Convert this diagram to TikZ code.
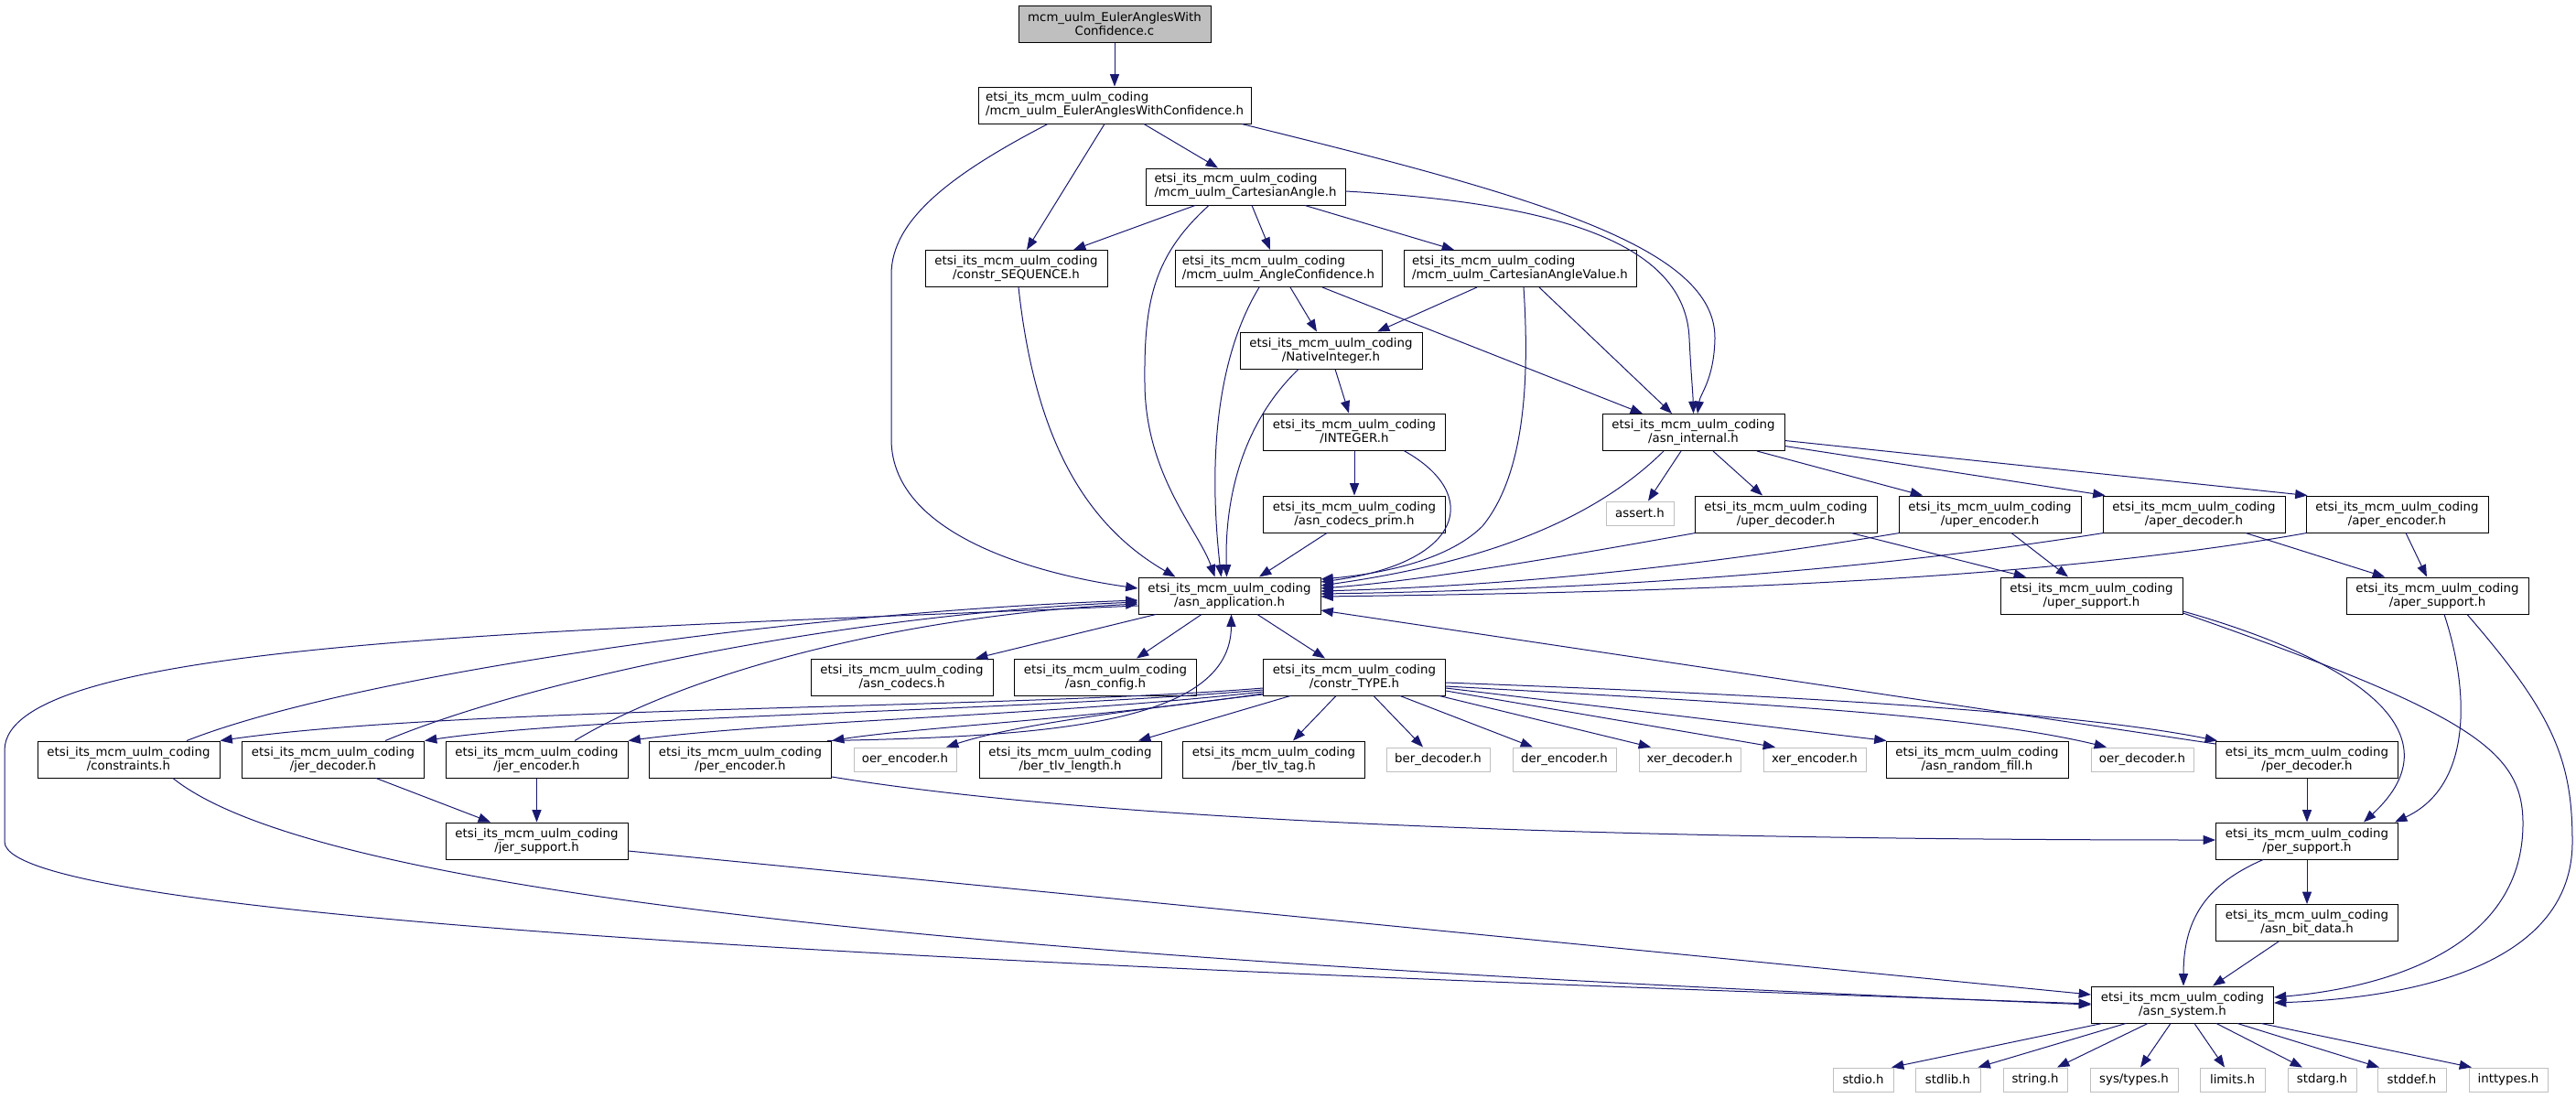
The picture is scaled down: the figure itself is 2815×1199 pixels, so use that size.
\documentclass[tikz,border=0pt]{standalone}
\usepackage{fontspec}
\setmainfont{DejaVu Sans}
\usetikzlibrary{arrows.meta,calc}
\definecolor{edgec}{HTML}{191970}
\definecolor{greyl}{HTML}{BFBFBF}
\begin{document}
\begin{tikzpicture}[x=0.75pt,y=-0.75pt,font=\fontsize{10pt}{11.25pt}\selectfont,
  hb/.style={draw=black,line width=0.75pt,fill=white,inner sep=0pt,minimum height=30pt,minimum width=149.25pt,align=center},
  hbl/.style={hb,align=left},
  rootbox/.style={hb,fill=greyl},
  sb/.style={draw=greyl,line width=0.75pt,fill=white,inner sep=0pt,minimum height=19.5pt,align=center},
  wd/.style={minimum width=#1*0.75pt},
  edg/.style={draw=edgec,line width=0.75pt,-{Triangle[length=10pt,width=7.5pt]}}]
\newcommand\sedge[4]{\draw[edg] ($(#1.south)+(#2,0)$) -- ($(#3.north)+(#4,0)$);}
\useasboundingbox (0,0) rectangle (2815,1199);
% nodes
\node[rootbox,wd=210] (root) at (1218,26) {mcm\_uulm\_EulerAnglesWith\\Confidence.c};
\node[hbl,wd=298] (eawc) at (1218,115) {etsi\_its\_mcm\_uulm\_coding\\/mcm\_uulm\_EulerAnglesWithConfidence.h};
\node[hbl,wd=218] (cang) at (1361,204) {etsi\_its\_mcm\_uulm\_coding\\/mcm\_uulm\_CartesianAngle.h};
\node[hb] (cseq) at (1110.5,293.5) {etsi\_its\_mcm\_uulm\_coding\\/constr\_SEQUENCE.h};
\node[hbl,wd=226] (aconf) at (1397,293.5) {etsi\_its\_mcm\_uulm\_coding\\/mcm\_uulm\_AngleConfidence.h};
\node[hbl,wd=254] (cav) at (1661,293.5) {etsi\_its\_mcm\_uulm\_coding\\/mcm\_uulm\_CartesianAngleValue.h};
\node[hb] (nint) at (1454.5,383) {etsi\_its\_mcm\_uulm\_coding\\/NativeInteger.h};
\node[hb] (integ) at (1480,472) {etsi\_its\_mcm\_uulm\_coding\\/INTEGER.h};
\node[hb] (prim) at (1480,562) {etsi\_its\_mcm\_uulm\_coding\\/asn\_codecs\_prim.h};
\node[hb] (asnint) at (1850.5,472.5) {etsi\_its\_mcm\_uulm\_coding\\/asn\_internal.h};
\node[sb,wd=74] (assert) at (1792,561) {assert.h};
\node[hb] (uperdec) at (1951.5,562) {etsi\_its\_mcm\_uulm\_coding\\/uper\_decoder.h};
\node[hb] (uperenc) at (2174.5,562) {etsi\_its\_mcm\_uulm\_coding\\/uper\_encoder.h};
\node[hb] (aperdec) at (2397.5,562) {etsi\_its\_mcm\_uulm\_coding\\/aper\_decoder.h};
\node[hb] (aperenc) at (2619.5,562) {etsi\_its\_mcm\_uulm\_coding\\/aper\_encoder.h};
\node[hb] (upersup) at (2285.5,651) {etsi\_its\_mcm\_uulm\_coding\\/uper\_support.h};
\node[hb] (apersup) at (2663.5,651) {etsi\_its\_mcm\_uulm\_coding\\/aper\_support.h};
\node[hb] (asnapp) at (1343.5,651) {etsi\_its\_mcm\_uulm\_coding\\/asn\_application.h};
\node[hb] (codecs) at (985.5,740) {etsi\_its\_mcm\_uulm\_coding\\/asn\_codecs.h};
\node[hb] (config) at (1208,740) {etsi\_its\_mcm\_uulm\_coding\\/asn\_config.h};
\node[hb] (ctype) at (1480,740) {etsi\_its\_mcm\_uulm\_coding\\/constr\_TYPE.h};
\node[hb] (constraints) at (140.5,830) {etsi\_its\_mcm\_uulm\_coding\\/constraints.h};
\node[hb] (jerdec) at (364,830) {etsi\_its\_mcm\_uulm\_coding\\/jer\_decoder.h};
\node[hb] (jerenc) at (586.5,830) {etsi\_its\_mcm\_uulm\_coding\\/jer\_encoder.h};
\node[hb] (perenc) at (809,830) {etsi\_its\_mcm\_uulm\_coding\\/per\_encoder.h};
\node[sb,wd=112] (oerenc) at (989,830) {oer\_encoder.h};
\node[hb] (bertlvlen) at (1169.5,830) {etsi\_its\_mcm\_uulm\_coding\\/ber\_tlv\_length.h};
\node[hb] (bertlvtag) at (1392,830) {etsi\_its\_mcm\_uulm\_coding\\/ber\_tlv\_tag.h};
\node[sb,wd=113] (berdec) at (1571.5,830) {ber\_decoder.h};
\node[sb,wd=113] (derenc) at (1709.5,830) {der\_encoder.h};
\node[sb,wd=111] (xerdec) at (1846.5,830) {xer\_decoder.h};
\node[sb,wd=112] (xerenc) at (1983,830) {xer\_encoder.h};
\node[hb] (randfill) at (2160.5,830) {etsi\_its\_mcm\_uulm\_coding\\/asn\_random\_fill.h};
\node[sb,wd=112] (oerdec) at (2341,830) {oer\_decoder.h};
\node[hb] (perdec) at (2521,830) {etsi\_its\_mcm\_uulm\_coding\\/per\_decoder.h};
\node[hb] (jersup) at (586.5,919) {etsi\_its\_mcm\_uulm\_coding\\/jer\_support.h};
\node[hb] (persup) at (2521,919) {etsi\_its\_mcm\_uulm\_coding\\/per\_support.h};
\node[hb] (bitdata) at (2521,1008.5) {etsi\_its\_mcm\_uulm\_coding\\/asn\_bit\_data.h};
\node[hb] (asnsys) at (2385,1098) {etsi\_its\_mcm\_uulm\_coding\\/asn\_system.h};
\node[sb,wd=66] (stdio) at (2036,1180) {stdio.h};
\node[sb,wd=71] (stdlib) at (2128.5,1180) {stdlib.h};
\node[sb,wd=70] (string) at (2224,1180) {string.h};
\node[sb,wd=96] (systypes) at (2332,1180) {sys/types.h};
\node[sb,wd=71] (limits) at (2439.5,1180) {limits.h};
\node[sb,wd=75] (stdarg) at (2537.5,1180) {stdarg.h};
\node[sb,wd=75] (stddef) at (2635.5,1180) {stddef.h};
\node[sb,wd=86] (inttypes) at (2741,1180) {inttypes.h};
% straight edges
\sedge{root}{0}{eawc}{0}
\sedge{eawc}{-11}{cseq}{11.5}
\sedge{eawc}{32}{cang}{-30}
\sedge{cang}{-55}{cseq}{62.5}
\sedge{cang}{7}{aconf}{-9}
\sedge{cang}{65}{cav}{-72}
\sedge{aconf}{13}{nint}{-15.5}
\sedge{aconf}{48}{asnint}{-55.5}
\sedge{cav}{-47}{nint}{50.5}
\sedge{cav}{21}{asnint}{-23.5}
\sedge{nint}{4.5}{integ}{-6}
\sedge{integ}{0}{prim}{0}
\sedge{prim}{-30}{asnapp}{32.5}
\sedge{asnint}{-13.5}{assert}{9}
\sedge{asnint}{21.5}{uperdec}{-25.5}
\sedge{asnint}{69.5}{uperenc}{-73.5}
\sedge{asnapp}{-80.5}{codecs}{80.5}
\sedge{asnapp}{-30.5}{config}{34}
\sedge{asnapp}{30.5}{ctype}{-32}
\sedge{ctype}{-70}{bertlvlen}{74.5}
\sedge{ctype}{-20}{bertlvtag}{21}
\sedge{ctype}{21}{berdec}{-16.5}
\sedge{ctype}{50}{derenc}{-34.5}
\sedge{ctype}{93}{xerdec}{-42.5}
\sedge{uperdec}{71.5}{upersup}{-71.5}
\sedge{uperenc}{23.5}{upersup}{-25.5}
\sedge{aperdec}{56.5}{apersup}{-57.5}
\sedge{aperenc}{9.5}{apersup}{-11.5}
\sedge{jerdec}{47}{jersup}{-50.5}
\sedge{jerenc}{0}{jersup}{0}
\sedge{perdec}{0}{persup}{0}
\sedge{persup}{0}{bitdata}{0}
\sedge{bitdata}{-31}{asnsys}{33}
\sedge{asnsys}{-88}{stdio}{31}
\sedge{asnsys}{-62}{stdlib}{33}
\sedge{asnsys}{-38}{string}{24}
\sedge{asnsys}{-13}{systypes}{7}
\sedge{asnsys}{13}{limits}{-8.5}
\sedge{asnsys}{37}{stdarg}{-21.5}
\sedge{asnsys}{60}{stddef}{-35.5}
\sedge{asnsys}{86}{inttypes}{-40}
\draw[edg] ($(asnint.east)+(0,15)$) -- ($(aperdec.north)+(-97,0)$);
\draw[edg] ($(asnint.east)+(0,9)$) -- ($(aperenc.north)+(-98,0)$);
\draw[edg] ($(ctype.east)+(0,15)$) -- ($(xerenc.north)+(-43,0)$);
\draw[edg] ($(ctype.east)+(0,12)$) -- ($(randfill.north)+(-99,0)$);
\draw[edg] ($(perdec.west)+(0,-17)$) -- ($(asnapp.east)+(0,16)$);
\draw[edg] ($(jersup.east)+(0,11)$) -- ($(asnsys.west)+(0,-11)$);
% curved edges
\draw[edg] ($(eawc.south)+(-73,0)$) .. controls (1040,190) and (974,240) .. (974,300) -- (974,480) .. controls (974,590) and (1150,630) .. ($(asnapp.west)+(0,-8)$);
\draw[edg] ($(eawc.south)+(139,0)$) .. controls (1680,215) and (1875,270) .. (1874,370) .. controls (1873,415) and (1858,430) .. ($(asnint.north)+(4.5,0)$);
\draw[edg] ($(cang.east)+(0,5)$) .. controls (1700,222) and (1842,265) .. (1846,370) .. controls (1848,410) and (1850,430) .. (asnint.north);
\draw[edg] ($(cseq.south)+(2.5,0)$) .. controls (1130,470) and (1180,570) .. ($(asnapp.north)+(-59,0)$);
\draw[edg] ($(cang.south)+(-40,0)$) .. controls (1260,280) and (1250,330) .. (1251,420) .. controls (1252,520) and (1310,580) .. ($(asnapp.north)+(-16,0)$);
\draw[edg] ($(aconf.south)+(-21,0)$) .. controls (1330,390) and (1320,500) .. ($(asnapp.north)+(-9,0)$);
\draw[edg] ($(nint.south)+(-35.5,0)$) .. controls (1360,460) and (1338,540) .. ($(asnapp.north)+(-3,0)$);
\draw[edg] ($(cav.south)+(4,0)$) .. controls (1672,420) and (1665,520) .. (1620,575) .. controls (1580,615) and (1500,628) .. ($(asnapp.east)+(0,-18)$);
\draw[edg] ($(integ.south)+(54,0)$) .. controls (1620,540) and (1600,615) .. ($(asnapp.east)+(0,-15)$);
\draw[edg] ($(asnint.south)+(-32.5,0)$) .. controls (1740,570) and (1620,615) .. ($(asnapp.east)+(0,-11)$);
\draw[edg] ($(uperdec.south)+(-99,0)$) .. controls (1700,610) and (1550,635) .. ($(asnapp.east)+(0,-8)$);
\draw[edg] ($(uperenc.south)+(-99,0)$) .. controls (1850,620) and (1650,640) .. ($(asnapp.east)+(0,-5)$);
\draw[edg] ($(aperdec.south)+(-99,0)$) .. controls (2000,630) and (1700,645) .. ($(asnapp.east)+(0,-2)$);
\draw[edg] ($(aperenc.south)+(-99,0)$) .. controls (2200,640) and (1750,648) .. ($(asnapp.east)+(0,1)$);
\draw[edg] ($(asnapp.west)+(0,11)$) .. controls (600,690) and (5,700) .. (5,820) -- (5,920) .. controls (5,1010) and (1200,1060) .. ($(asnsys.west)+(0,-1)$);
\draw[edg] ($(constraints.north)+(63.5,0)$) .. controls (380,740) and (850,670) .. ($(asnapp.west)+(0,5)$);
\draw[edg] ($(jerdec.north)+(57,0)$) .. controls (600,735) and (950,670) .. ($(asnapp.west)+(0,7)$);
\draw[edg] ($(jerenc.north)+(41.5,0)$) .. controls (760,730) and (1000,672) .. ($(asnapp.west)+(0,9)$);
\draw[edg] ($(ctype.west)+(0,12)$) .. controls (1100,775) and (500,772) .. (constraints.north east);
\draw[edg] ($(ctype.west)+(0,14)$) .. controls (1100,778) and (650,782) .. (jerdec.north east);
\draw[edg] ($(ctype.west)+(0,16)$) .. controls (1150,782) and (850,788) .. (jerenc.north east);
\draw[edg] ($(ctype.west)+(0,18)$) .. controls (1200,785) and (1000,795) .. (perenc.north east);
\draw[edg] ($(ctype.west)+(0,19)$) .. controls (1200,780) and (1100,795) .. ($(oerenc.north)+(45,0)$);
\draw[edg] ($(perenc.north)+(95,0)$) .. controls (1150,805) and (1345,790) .. ($(asnapp.south)+(2,0)$);
\draw[edg] ($(constraints.south)+(48.5,0)$) .. controls (350,980) and (1100,1050) .. ($(asnsys.west)+(0,0)$);
\draw[edg] ($(perenc.east)+(0,19)$) .. controls (1250,905) and (1900,918) .. ($(persup.west)+(0,-1)$);
\draw[edg] ($(ctype.east)+(0,10)$) .. controls (1900,768) and (2150,780) .. ($(oerdec.north)+(-39,0)$);
\draw[edg] ($(ctype.east)+(0,6)$) .. controls (1900,758) and (2250,775) .. ($(perdec.north)+(-98,0)$);
\draw[edg] ($(upersup.east)+(0,17)$) .. controls (2570,720) and (2690,800) .. ($(persup.north)+(62,0)$);
\draw[edg] ($(upersup.east)+(0,19)$) .. controls (2700,780) and (2757,820) .. (2757,900) .. controls (2757,1040) and (2600,1080) .. ($(asnsys.east)+(0,-8)$);
\draw[edg] ($(apersup.south)+(7.5,0)$) .. controls (2700,760) and (2700,860) .. ($(persup.north)+(96,0)$);
\draw[edg] ($(apersup.south)+(32.5,0)$) .. controls (2790,780) and (2811,830) .. (2811,920) .. controls (2811,1050) and (2650,1090) .. ($(asnsys.east)+(0,-2)$);
\draw[edg] ($(persup.south)+(-48,0)$) .. controls (2415,965) and (2386,1000) .. ($(asnsys.north)+(1,0)$);
\end{tikzpicture}
\end{document}
